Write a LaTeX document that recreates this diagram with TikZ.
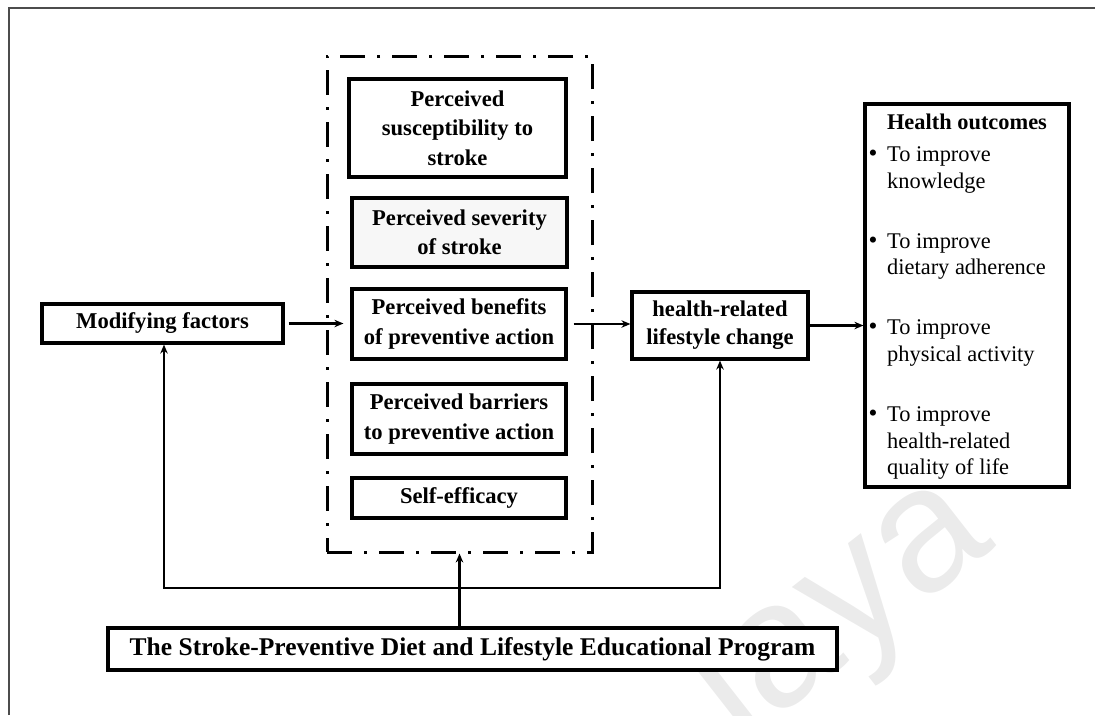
\documentclass[tikz,border=0pt]{standalone}
\usepackage{fontspec}
\setmainfont{Liberation Serif}
\newfontfamily\wmfont{Liberation Sans}
\usetikzlibrary{arrows.meta}

\begin{document}
\begin{tikzpicture}[x=1pt,y=-1pt,
  box/.style={draw,fill=white,line width=3.2pt,inner sep=0pt,align=center,
    font=\bfseries\fontsize{22.6}{29.5}\selectfont},
  conn/.style={line width=2.2pt,-{Stealth[length=9pt,width=7.5pt]}},
  loopconn/.style={line width=2.2pt,line join=miter,
    {Stealth[length=9pt,width=7.5pt]}-{Stealth[length=9pt,width=7.5pt]}},
  dashdot/.style={draw,line width=3pt,dash pattern=on 25pt off 12pt on 3pt off 12pt},
  itemtext/.style={anchor=base west,inner sep=0pt,font=\fontsize{22.4}{27}\selectfont},
  bullet/.style={anchor=base west,inner sep=0pt,font=\bfseries\fontsize{22.4}{27}\selectfont}
]
\useasboundingbox (0,0) rectangle (1095,715);

% watermark
\begin{scope}
  \clip (0,0) rectangle (1095,715);
  \node[rotate=38,text=black!8,font=\wmfont\fontsize{177}{177}\selectfont] (wm) at (841,610) {laya};
\end{scope}

% page frame
\draw[black!70,line width=1.5pt] (9,715) -- (9,8) -- (1095,8);

% health belief model constructs
\node[dashdot,minimum width=265pt,minimum height=496pt] (hbm) at (459.5,304) {};
\node[box,minimum width=217pt,minimum height=98pt] (sus) at (457.5,128) {Perceived\\susceptibility to\\stroke};
\node[box,fill=black!3,minimum width=215pt,minimum height=69pt] (sev) at (459.5,232.5) {Perceived severity\\of stroke};
\node[box,minimum width=214pt,minimum height=70pt] (ben) at (459,324) {Perceived benefits\\of preventive action};
\node[box,minimum width=214pt,minimum height=70pt] (bar) at (459,419) {Perceived barriers\\to preventive action};
\node[box,minimum width=214pt,minimum height=40pt] (eff) at (459,498) {Self-efficacy};

% other boxes
\node[box,minimum width=241pt,minimum height=39pt] (mod) at (162.5,323.5) {Modifying factors};
\node[box,minimum width=176pt,minimum height=67pt,
  font=\bfseries\fontsize{22.6}{28}\selectfont] (hlc) at (720,325.5) {health-related\\lifestyle change};
\node[box,minimum width=204pt,minimum height=383pt] (out) at (967,295.5) {};
\node[box,minimum width=729pt,minimum height=42pt,
  font=\bfseries\fontsize{25.5}{30}\selectfont] (prog) at (472.5,649)
  {The Stroke-Preventive Diet and Lifestyle Educational Program};

% health outcomes list
\node[anchor=base,inner sep=0pt,font=\bfseries\fontsize{22.4}{27}\selectfont] (outt) at (967,129) {Health outcomes};
\node[bullet] (b1) at (869,160) {•};
\node[bullet] (b2) at (869,247) {•};
\node[bullet] (b3) at (869,333) {•};
\node[bullet] (b4) at (869,420) {•};
\node[itemtext] (i1a) at (887,161) {To improve};
\node[itemtext] (i1b) at (887,188) {knowledge};
\node[itemtext] (i2a) at (887,248) {To improve};
\node[itemtext] (i2b) at (887,274) {dietary adherence};
\node[itemtext] (i3a) at (887,334) {To improve};
\node[itemtext] (i3b) at (887,361) {physical activity};
\node[itemtext] (i4a) at (887,421) {To improve};
\node[itemtext] (i4b) at (887,448) {health-related};
\node[itemtext] (i4c) at (887,474) {quality of life};

% connectors
\draw[conn,shorten <=4pt,shorten >=7pt] (mod.east) -- (mod.east -| ben.west);
\draw[conn,shorten <=6pt] (ben.east) -- (ben.east -| hlc.west);
\draw[conn] (hlc.east) -- (hlc.east -| out.west);
\draw[conn] (hbm.south |- prog.north) -- (hbm.south);
\coordinate (lb) at (164,588);
\coordinate (rb) at (720,588);
\draw[loopconn] (lb |- mod.south) -- (lb) -- (rb) -- (rb |- hlc.south);
\end{tikzpicture}
\end{document}
